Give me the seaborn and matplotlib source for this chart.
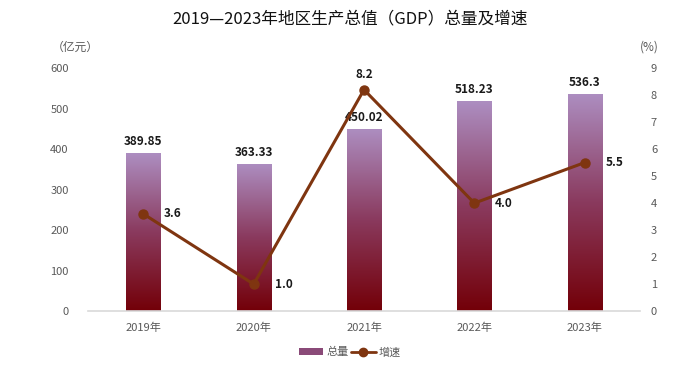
import matplotlib
matplotlib.use("Agg")
import matplotlib.pyplot as plt
import matplotlib.colors as mcolors
from matplotlib.patches import Patch
from matplotlib.lines import Line2D
import numpy as np
import pandas as pd
import seaborn as sns

years = ["2019年", "2020年", "2021年", "2022年", "2023年"]
gdp_total = [389.85, 363.33, 450.02, 518.23, 536.3]
gdp_growth = [3.6, 1.0, 8.2, 4.0, 5.5]
total_labels = ["389.85", "363.33", "450.02", "518.23", "536.3"]
growth_labels = ["3.6", "1.0", "8.2", "4.0", "5.5"]

LINE = "#7F3510"
TICK = "#595959"
GRAD = mcolors.LinearSegmentedColormap.from_list("bar", ["#730008", "#8A3A5E", "#AD8EC1"])

sns.set_theme(style="white")
plt.rcParams["font.family"] = ["Noto Sans CJK SC", "DejaVu Sans"]

df = pd.DataFrame({"year": years, "total": gdp_total, "growth": gdp_growth})

fig = plt.figure(figsize=(7, 3.7), dpi=100)
ax = fig.add_axes([0.126, 0.159, 0.788, 0.657])
sns.barplot(data=df, x="year", y="total", ax=ax, width=0.31, color="#9B6FA8", zorder=2)
ax.set_ylim(0, 600)
ax.set_xlim(-0.5, 4.5)

# gradient fill on each bar
for patch in ax.patches:
    x0, w, h = patch.get_x(), patch.get_width(), patch.get_height()
    grad = np.linspace(0, 1, 256).reshape(-1, 1)
    im = ax.imshow(grad, cmap=GRAD, origin="lower", aspect="auto",
                   extent=(x0, x0 + w, 0, h), zorder=2.5, vmin=0, vmax=1)
    im.set_clip_path(patch)
    patch.set_edgecolor("#C9B4D6")
    patch.set_linewidth(0.6)

for i, v in enumerate(gdp_total):
    ax.text(i, v + 12, total_labels[i], ha="center", va="bottom",
            fontsize=8.5, fontweight="bold", color="#1A1A1A")

ax2 = ax.twinx()
ax2.plot(range(len(years)), gdp_growth, color=LINE, lw=2.2, marker="o", ms=6.5, zorder=5)
ax2.set_ylim(0, 9)
peak = int(np.argmax(gdp_growth))
for i, v in enumerate(gdp_growth):
    if i == peak:
        ax2.annotate(growth_labels[i], (i, v), xytext=(0, 11), textcoords="offset points",
                     ha="center", va="center", fontsize=8.5, fontweight="bold", color="#1A1A1A")
    else:
        ax2.annotate(growth_labels[i], (i, v), xytext=(15, 0), textcoords="offset points",
                     ha="left", va="center", fontsize=8.5, fontweight="bold", color="#1A1A1A")

ax.set_yticks(range(0, 601, 100))
ax2.set_yticks(range(0, 10))
for a in (ax, ax2):
    a.set_xlabel("")
    a.set_ylabel("")
    for s in a.spines.values():
        s.set_visible(False)
    a.tick_params(axis="both", length=0, labelsize=8, colors=TICK, pad=6)
ax.spines["bottom"].set_visible(True)
ax.spines["bottom"].set_color("#D9D9D9")
ax.spines["bottom"].set_linewidth(1.2)
ax.tick_params(axis="x", pad=8)
ax.tick_params(axis="y", pad=14)
ax2.tick_params(axis="y", pad=8)

fig.text(0.108, 0.872, "（亿元）", ha="center", va="center", fontsize=8.5, color=TICK)
fig.text(0.927, 0.872, "(%)", ha="center", va="center", fontsize=8.5, color=TICK)
fig.text(0.5, 0.948, "2019—2023年地区生产总值（GDP）总量及增速", ha="center", va="center",
         fontsize=12, color="#111111")

handles = [Patch(facecolor="#8A4A78", edgecolor="none"),
           Line2D([0], [0], color=LINE, lw=2, marker="o", ms=6)]
fig.legend(handles, ["总量", "增速"], loc="center", bbox_to_anchor=(0.5, 0.048), ncol=2,
           frameon=False, fontsize=8, handlelength=2.2, columnspacing=0.2, handletextpad=0.3,
           labelcolor=TICK)

fig.savefig("out.png", dpi=100)
